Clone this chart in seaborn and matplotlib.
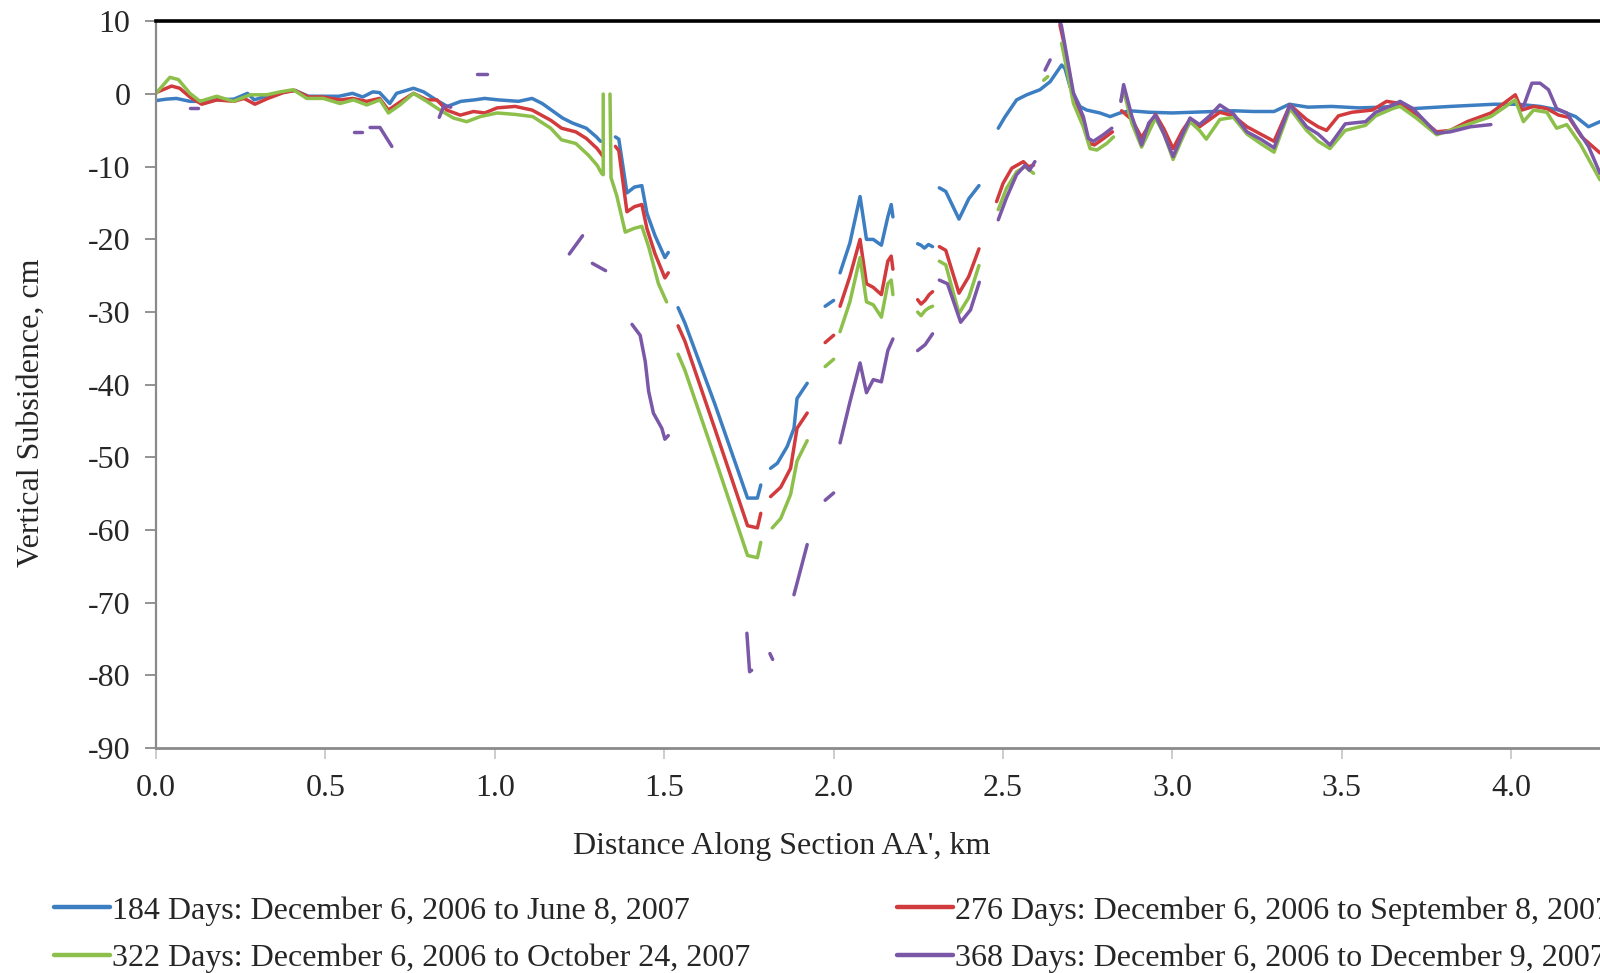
import numpy as np
import pandas as pd
import matplotlib
matplotlib.use("Agg")
import matplotlib.pyplot as plt
from matplotlib.lines import Line2D
import seaborn as sns

nan = np.nan

# ---------------- data (NaN separates gaps) ----------------
x_184 = [0.00,0.03,0.06,0.10,0.13,0.18,0.23,0.27,0.29,0.33,0.38,0.41,0.45,0.49,0.54,0.58,0.61,0.64,0.66,0.69,0.71,0.76,0.79,0.83,0.86,0.90,0.94,0.97,1.01,1.07,1.11,1.14,1.20,1.23,1.27,1.30,1.312, nan,
         1.356,1.366,1.390,1.412,1.434,1.449,1.473,1.502,1.512, nan,
         1.541,1.561,1.649,1.746,1.775,1.785, nan,
         1.814,1.834,1.863,1.883,1.892,1.922, nan,
         1.975,2.000, nan,
         2.019,2.048,2.078,2.097,2.117,2.141,2.160,2.170,2.175, nan,
         2.248,2.258,2.268,2.280,2.292, nan,
         2.312,2.331,2.370,2.399,2.429, nan,
         2.486,2.505,2.540,2.570,2.609,2.639,2.673,2.683,2.698,2.727,2.747,2.786,2.816,2.845,2.875,2.93,3.0,3.06,3.12,3.18,3.24,3.30,3.345,3.40,3.47,3.55,3.62,3.672,3.71,3.82,3.95,4.02,4.085,4.14,4.19,4.228,4.262]
y_184 = [-0.9,-0.7,-0.6,-1.0,-1.0,-0.8,-0.7,0.1,-0.8,-0.2,0.3,0.5,-0.3,-0.3,-0.3,0.1,-0.4,0.3,0.2,-1.3,0.1,0.8,0.3,-0.9,-1.7,-1.0,-0.8,-0.6,-0.8,-1.0,-0.6,-1.3,-3.3,-4.0,-4.7,-5.9,-6.5, nan,
         -5.9,-6.2,-13.6,-12.8,-12.6,-16.4,-19.5,-22.5,-21.8, nan,
         -29.4,-31.5,-42.6,-55.6,-55.6,-53.8, nan,
         -51.5,-50.8,-48.5,-46.0,-41.9,-39.8, nan,
         -29.2,-28.4, nan,
         -24.6,-20.5,-14.1,-20.0,-20.0,-20.8,-16.9,-15.2,-16.9, nan,
         -20.6,-20.8,-21.2,-20.7,-21.0, nan,
         -12.9,-13.4,-17.2,-14.4,-12.6, nan,
         -4.7,-3.2,-0.8,-0.1,0.6,1.7,4.0,3.5,1.0,-1.7,-2.2,-2.6,-3.1,-2.6,-2.3,-2.5,-2.6,-2.5,-2.4,-2.3,-2.4,-2.4,-1.4,-1.8,-1.7,-1.9,-1.8,-1.6,-2.0,-1.7,-1.4,-1.4,-1.7,-2.2,-3.1,-4.5,-3.8]

x_276 = [0.00,0.046,0.07,0.10,0.135,0.18,0.23,0.26,0.292,0.33,0.376,0.41,0.45,0.49,0.543,0.58,0.622,0.66,0.686,0.72,0.76,0.80,0.829,0.858,0.898,0.937,0.97,1.007,1.06,1.11,1.165,1.197,1.239,1.27,1.302,1.318, nan,
         1.356,1.366,1.390,1.412,1.434,1.449,1.473,1.502,1.512, nan,
         1.541,1.561,1.649,1.746,1.775,1.785, nan,
         1.814,1.844,1.873,1.892,1.922, nan,
         1.975,2.000, nan,
         2.019,2.048,2.078,2.097,2.117,2.141,2.160,2.170,2.175, nan,
         2.248,2.258,2.270,2.282,2.292, nan,
         2.312,2.331,2.370,2.399,2.429, nan,
         2.481,2.50,2.526,2.560,2.575,2.590, nan,
         2.668,2.68,2.708,2.737,2.755,2.77,2.80,2.823, nan,
         2.85,2.88,2.909,2.95,2.975,3.002,3.03,3.052,3.08,3.11,3.14,3.18,3.22,3.26,3.30,3.347,3.396,3.43,3.455,3.49,3.53,3.59,3.632,3.672,3.72,3.78,3.82,3.87,3.94,4.012,4.031,4.066,4.105,4.14,4.17,4.208,4.262]
y_276 = [0.2,1.1,0.8,-0.4,-1.4,-0.8,-1.0,-0.6,-1.4,-0.6,0.2,0.5,-0.4,-0.4,-0.8,-0.6,-1.0,-0.6,-2.2,-1.1,0.1,-0.8,-0.8,-2.2,-2.9,-2.4,-2.6,-1.9,-1.7,-2.2,-3.6,-4.7,-5.2,-6.1,-7.5,-8.5, nan,
         -7.2,-7.8,-16.2,-15.5,-15.2,-18.5,-22.0,-25.3,-24.6, nan,
         -31.9,-34.0,-46.0,-59.4,-59.7,-57.7, nan,
         -55.4,-54.1,-51.5,-46.0,-43.9, nan,
         -34.2,-33.2, nan,
         -29.2,-25.1,-20.0,-26.1,-26.6,-27.6,-23.0,-22.3,-24.1, nan,
         -28.3,-28.9,-28.4,-27.6,-27.2, nan,
         -21.0,-21.5,-27.4,-25.1,-21.3, nan,
         -14.8,-12.3,-10.2,-9.3,-10.0,-9.8, nan,
         9.5,7.0,-0.5,-3.8,-6.8,-7.0,-6.0,-5.2, nan,
         -2.3,-3.5,-6.0,-2.8,-4.8,-7.5,-5.0,-3.5,-4.5,-3.5,-2.5,-3.0,-4.5,-5.5,-6.5,-1.5,-3.5,-4.5,-5.0,-3.0,-2.5,-2.2,-1.0,-1.3,-2.9,-5.2,-5.0,-3.8,-2.6,-0.1,-2.2,-1.7,-2.0,-2.9,-3.2,-5.9,-8.1]

x_322 = [0.00,0.041,0.066,0.10,0.13,0.179,0.228,0.278,0.327,0.366,0.405,0.445,0.494,0.543,0.583,0.622,0.661,0.686,0.72,0.76,0.799,0.838,0.878,0.917,0.957,1.007,1.06,1.112,1.165,1.197,1.239,1.276,1.302,1.315,1.320,1.320, nan,
         1.340,1.343,1.36,1.385,1.41,1.434,1.454,1.483,1.507, nan,
         1.541,1.561,1.649,1.746,1.775,1.785, nan,
         1.819,1.844,1.873,1.892,1.922, nan,
         1.975,2.000, nan,
         2.019,2.048,2.078,2.097,2.117,2.141,2.160,2.170,2.175, nan,
         2.248,2.258,2.270,2.282,2.292, nan,
         2.312,2.331,2.370,2.399,2.429, nan,
         2.486,2.51,2.540,2.565,2.590, nan,
         2.620,2.632, nan,
         2.673,2.708,2.737,2.757,2.777,2.806,2.826, nan,
         2.848,2.856,2.88,2.909,2.95,2.975,3.002,3.03,3.052,3.08,3.10,3.14,3.18,3.22,3.26,3.30,3.347,3.396,3.43,3.465,3.51,3.57,3.60,3.65,3.672,3.72,3.78,3.87,3.94,4.012,4.036,4.066,4.105,4.134,4.164,4.203,4.262]
y_322 = [0.1,2.3,2.0,0.1,-1.0,-0.3,-1.0,-0.1,-0.1,0.3,0.6,-0.6,-0.6,-1.3,-0.8,-1.5,-0.8,-2.6,-1.5,0.1,-1.0,-2.2,-3.3,-3.8,-3.1,-2.6,-2.8,-3.1,-4.7,-6.3,-6.8,-8.4,-9.8,-10.9,-11.1,0.0, nan,
         0.0,-11.5,-14.0,-19.0,-18.5,-18.2,-21.0,-26.1,-28.6, nan,
         -35.8,-38.0,-50.0,-63.5,-63.8,-61.7, nan,
         -59.7,-58.4,-55.1,-50.5,-47.7, nan,
         -37.5,-36.5, nan,
         -32.7,-28.6,-22.5,-28.6,-29.0,-30.7,-26.1,-25.6,-27.6, nan,
         -30.0,-30.5,-29.8,-29.4,-29.2, nan,
         -23.0,-23.5,-30.2,-28.0,-23.6, nan,
         -15.9,-13.0,-10.7,-10.0,-10.9, nan,
         1.9,2.4, nan,
         7.0,-1.3,-4.5,-7.5,-7.7,-6.8,-5.9, nan,
         -0.9,0.5,-4.0,-7.3,-3.3,-5.5,-9.0,-6.0,-3.8,-5.0,-6.2,-3.5,-3.2,-5.5,-6.8,-8.0,-2.0,-5.0,-6.5,-7.5,-5.0,-4.3,-3.0,-2.0,-1.7,-3.3,-5.6,-4.2,-3.1,-0.8,-3.8,-2.2,-2.5,-4.7,-4.2,-6.8,-11.8]

x_368 = [0.10,0.125, nan,
         0.583,0.607, nan,
         0.632,0.661,0.696, nan,
         0.836,0.85,0.87, nan,
         0.946,0.976, nan,
         1.22,1.259, nan,
         1.288,1.327, nan,
         1.405,1.429,1.444,1.454,1.468,1.493,1.502,1.512, nan,
         1.744,1.752,1.758, nan,
         1.812,1.820, nan,
         1.883,1.922, nan,
         1.975,2.000, nan,
         2.019,2.048,2.078,2.097,2.117,2.141,2.160,2.175, nan,
         2.248,2.270,2.292, nan,
         2.312,2.336,2.375,2.404,2.43, nan,
         2.486,2.51,2.540,2.565,2.578,2.594, nan,
         2.624,2.639, nan,
         2.666,2.672,2.708,2.737,2.752,2.767,2.796,2.821, nan,
         2.848,2.856,2.88,2.909,2.93,2.95,2.975,3.002,3.03,3.052,3.08,3.11,3.14,3.18,3.22,3.26,3.30,3.347,3.396,3.43,3.465,3.51,3.57,3.60,3.65,3.672,3.71,3.78,3.82,3.88,3.94, nan,
         4.036,4.061,4.085,4.11,4.134,4.164,4.19,4.228,4.262]
y_368 = [-1.95,-1.95, nan,
         -5.2,-5.2, nan,
         -4.6,-4.6,-7.2, nan,
         -3.2,-1.6,-1.8, nan,
         2.7,2.7, nan,
         -22.0,-19.5, nan,
         -23.3,-24.3, nan,
         -31.7,-33.2,-36.8,-40.9,-43.9,-46.0,-47.5,-47.0, nan,
         -74.2,-79.5,-79.3, nan,
         -77.0,-77.8, nan,
         -68.9,-62.0, nan,
         -55.9,-54.9, nan,
         -48.0,-42.4,-37.0,-41.1,-39.3,-39.6,-35.3,-33.7, nan,
         -35.3,-34.5,-33.0, nan,
         -25.6,-26.1,-31.4,-29.7,-25.9, nan,
         -17.3,-14.3,-11.1,-9.8,-10.5,-9.3, nan,
         3.3,4.7, nan,
         10.0,9.5,0.1,-3.1,-6.1,-6.5,-5.6,-4.7, nan,
         -1.0,1.3,-3.0,-7.0,-4.0,-2.9,-5.5,-8.6,-5.5,-3.3,-4.2,-3.0,-1.5,-2.7,-5.2,-6.2,-7.4,-1.5,-4.5,-5.5,-7.0,-4.1,-3.8,-2.5,-1.5,-1.0,-2.0,-5.4,-5.2,-4.5,-4.2, nan,
         -1.7,1.5,1.5,0.6,-2.0,-2.6,-4.5,-7.2,-10.9]

labels = ["184 Days: December 6, 2006 to June 8, 2007",
          "276 Days: December 6, 2006 to September 8, 2007",
          "322 Days: December 6, 2006 to October 24, 2007",
          "368 Days: December 6, 2006 to December 9, 2007"]
colors = ["#3D7EC2", "#D23B3D", "#8DBF4B", "#7B57A8"]
series_x = [x_184, x_276, x_322, x_368]
series_y = [y_184, y_276, y_322, y_368]
x_ticks = [0.0, 0.5, 1.0, 1.5, 2.0, 2.5, 3.0, 3.5, 4.0]
y_ticks = [10, 0, -10, -20, -30, -40, -50, -60, -70, -80, -90]

# --------------- build long table with segment ids ---------------
frames = []
for lab, xs, ys in zip(labels, series_x, series_y):
    xs = np.asarray(xs, float); ys = np.asarray(ys, float)
    seg = np.cumsum(np.isnan(xs))
    m = ~np.isnan(xs)
    frames.append(pd.DataFrame({"x": xs[m], "y": ys[m], "series": lab,
                                "seg": [f"{lab}_{s}" for s in seg[m]]}))
df = pd.concat(frames, ignore_index=True)

sns.set_theme(style="white")
plt.rcParams["font.family"] = ["Liberation Serif", "DejaVu Serif"]

fig = plt.figure(figsize=(16, 9.73), dpi=100)
ax = fig.add_axes([0.0975, 0.2312, 0.9025, 0.7468])

sns.lineplot(data=df, x="x", y="y", hue="series", units="seg", estimator=None,
             sort=False, hue_order=labels, palette=dict(zip(labels, colors)),
             linewidth=2.5, legend=False, ax=ax)

ax.set_xlim(0, 4.262)
ax.set_ylim(-90, 10)
ax.set_xticks(x_ticks)
ax.set_xticklabels([f"{t:.1f}" for t in x_ticks])
ax.set_yticks(y_ticks)
ax.set_yticklabels([str(t) for t in y_ticks])
ax.tick_params(axis="y", direction="out", length=8, width=1.3, color="#8a8a8a",
               labelsize=23, pad=10.5, left=True)
ax.tick_params(axis="x", direction="out", length=8, width=1.3, color="#c8c8c8",
               labelsize=23, pad=11, bottom=True)

ax.spines["right"].set_visible(False)
ax.spines["top"].set_color("black"); ax.spines["top"].set_linewidth(2.6)
ax.spines["left"].set_color("#8a8a8a"); ax.spines["left"].set_linewidth(1.6)
ax.spines["bottom"].set_color("#8a8a8a"); ax.spines["bottom"].set_linewidth(2.0)

ax.set_xlabel("Distance Along Section AA', km", fontsize=23)
ax.set_ylabel("Vertical Subsidence, cm", fontsize=23)
ax.xaxis.set_label_coords(0.433, -0.115)
ax.yaxis.set_label_coords(-0.0765, 0.461)

handles = [Line2D([0], [0], color=c, lw=3.2) for c in colors]
order = [0, 2, 1, 3]
fig.legend([handles[i] for i in order], [labels[i] for i in order],
           loc="upper left", bbox_to_anchor=(0.034, 0.079), ncol=2,
           frameon=False, fontsize=23, handlelength=1.75, handletextpad=0.05,
           columnspacing=4.6, labelspacing=0.56, borderpad=0, borderaxespad=0)

fig.savefig("out.png", dpi=100)
